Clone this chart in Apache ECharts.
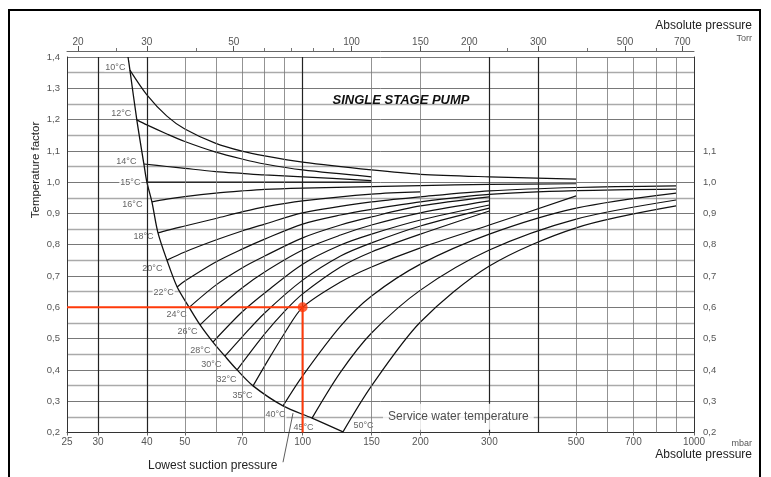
<!DOCTYPE html>
<html><head><meta charset="utf-8">
<script src="https://cdn.jsdelivr.net/npm/echarts/dist/echarts.min.js"></script>
<style>html,body{margin:0;padding:0;background:#fff}#c{width:771px;height:477px}</style>
</head><body><div id="c"></div>
<script>
// ---- data (pressure in mbar, temperature factor) ----
const bottomTicks = [25,30,40,50,70,100,150,200,300,500,700,1000];
const topMajor = [20,30,50,100,150,200,300,500,700];
const topMinor = [25,40,60,70,80,90,250,400,600];
const vGrid = [30,40,50,60,70,80,90,100,150,200,300,400,500,600,700,800,900];
const vGridBold = [30,40,100,300,400];

const tempLabels = ['10°C','12°C','14°C','15°C','16°C','18°C','20°C','22°C','24°C','26°C','28°C','30°C','32°C','35°C','40°C','45°C','50°C'];
const startP = [36.2,37.7,39.3,40.0,41.2,42.7,45.0,47.8,51.3,54.7,59.0,63.3,68.0,74.7,89.1,105.7,126.8];
const startF = [1.358,1.199,1.058,1.0,0.937,0.838,0.751,0.665,0.6,0.544,0.489,0.444,0.40,0.349,0.285,0.246,0.202];
const boundaryTopP = 35.8, boundaryTopF = 1.4;

const curveP = [
  [40,45,50,60,70,80,100,150,200,300,500],
  [40,45,50,60,70,80,100,150],
  [45,50,60,70,80,100,150],
  [150],
  [45,50,60,70,80,100,150,200,300,500],
  [45,50,60,70,80,100,150,200],
  [50,60,70,80,100,150,200,300,500,900],
  [50,60,70,80,100,125,150,200,300,500,900],
  [60,70,80,100,125,150,200,300],
  [60,70,80,100,125,150,200,300],
  [70,80,100,125,150,200,300],
  [70,80,100,125,150,200,300],
  [80,90,100,125,150,200,300],
  [80,90,100,125,150,200,300,500],
  [100,125,150,200,300,500,900],
  [125,150,200,300,500,900],
  [150,200,300,500,900]
];
const curveF = [
  [1.279,1.211,1.170,1.124,1.099,1.084,1.064,1.039,1.025,1.017,1.010],
  [1.183,1.154,1.130,1.096,1.074,1.058,1.039,1.017],
  [1.050,1.044,1.034,1.028,1.023,1.017,1.005],
  [1.0],
  [0.946,0.954,0.965,0.972,0.977,0.981,0.986,0.989,0.993,0.995],
  [0.846,0.860,0.884,0.905,0.921,0.940,0.962,0.969],
  [0.777,0.815,0.844,0.866,0.902,0.937,0.953,0.972,0.983,0.988],
  [0.684,0.745,0.786,0.818,0.866,0.895,0.913,0.937,0.961,0.973,0.978],
  [0.671,0.726,0.764,0.822,0.863,0.889,0.924,0.953],
  [0.591,0.662,0.713,0.783,0.831,0.863,0.902,0.940],
  [0.585,0.646,0.738,0.799,0.834,0.879,0.927],
  [0.505,0.582,0.687,0.764,0.806,0.860,0.917],
  [0.515,0.588,0.643,0.729,0.777,0.834,0.908],
  [0.413,0.518,0.600,0.681,0.729,0.790,0.863,0.956],
  [0.381,0.540,0.636,0.738,0.834,0.917,0.965],
  [0.393,0.518,0.655,0.783,0.882,0.943],
  [0.349,0.553,0.732,0.854,0.924]
];
// label offsets (style only)
const labelOffsets = [[-1,-3],[-2,-6],[-4,-3],[-3,0],[-6,3],[-1,4],[-1,8],[0,6],[1,7],[1,7],[1,8],[0,8],[3,10],[3,10],[6,9],[5,9],[7,-6]];

const exampleP = 100, exampleF = 0.6;
const leaderP = [89.1, 94.5], leaderF = [0.105, 0.262];
const serviceP = 250, serviceF = 0.25;
const TORR = 1.33322;

const FONT = 'Liberation Sans, Arial, Helvetica, sans-serif';
const comma = v => (Math.round(v*10)/10).toFixed(1).replace('.', ',');

const chart = echarts.init(document.getElementById('c'), null, {renderer:'canvas'});

const series = [];
// vertical grid lines
series.push({
  type:'line', xAxisIndex:0, yAxisIndex:0, data:[], z:1, silent:true,
  markLine:{
    symbol:'none', silent:true, animation:false, label:{show:false},
    data: vGrid.map(v => ({xAxis:v, lineStyle:{
      color: vGridBold.includes(v) ? '#222' : '#777',
      width: vGridBold.includes(v) ? 1.2 : 0.8, type:'solid'}}))
  }
});
// temperature curves
curveP.forEach((ps, i) => {
  const d = [[startP[i], startF[i]]].concat(ps.map((p, j) => [p, curveF[i][j]]));
  series.push({type:'line', name:tempLabels[i], data:d, smooth:0.3,
    symbol:'none', z:3, lineStyle:{color:'#111', width:1.2}, silent:true});
});
// boundary curve
series.push({type:'line', data:[[boundaryTopP, boundaryTopF]].concat(startP.map((p,i)=>[p,startF[i]])),
  smooth:0.3, symbol:'none', z:3, lineStyle:{color:'#111', width:1.3}, silent:true});
// temperature labels
series.push({type:'scatter', symbolSize:1, z:4, silent:true,
  itemStyle:{color:'rgba(0,0,0,0)'},
  label:{show:true, formatter:p=>tempLabels[p.dataIndex], fontFamily:FONT, fontSize:9, color:'#3a3a3a'},
  data: startP.map((p,i)=>({value:[p,startF[i]],
    label:{show:true, position: i===16 ? 'right':'left', distance:2, offset:labelOffsets[i],
      backgroundColor:'#fff', padding:[0,1]}}))
});
// example red line and dot
series.push({type:'line', data:[[25,exampleF],[exampleP,exampleF],[exampleP,0.2]], symbol:'none', z:6,
  lineStyle:{color:'#ff3a0a', width:2}, silent:true});
series.push({type:'scatter', data:[[exampleP,exampleF]], symbolSize:10, z:7, itemStyle:{color:'#ff3a0a'}, silent:true});
// leader line for "Lowest suction pressure"
series.push({type:'line', data:leaderP.map((p,i)=>[p,leaderF[i]]), symbol:'none', clip:false, z:4,
  lineStyle:{color:'#333', width:0.8}, silent:true});
// service water label
series.push({type:'scatter', data:[[serviceP, serviceF]], symbolSize:1, z:5, silent:true,
  itemStyle:{color:'rgba(0,0,0,0)'},
  label:{show:true, position:'inside', formatter:'Service water temperature', fontFamily:FONT, fontSize:12,
    color:'#222', backgroundColor:'#fff', padding:[4,5,10,5]}});

const option = {
  animation:false,
  backgroundColor:'#fff',
  grid:{left:67, right:77, top:57, bottom:44.5, containLabel:false},
  xAxis:[
    {type:'log', logBase:10, min:25, max:1000, position:'bottom',
     axisLine:{show:true, lineStyle:{color:'#333', width:1}},
     axisTick:{show:true, customValues:bottomTicks, length:3, lineStyle:{color:'#666'}},
     axisLabel:{customValues:bottomTicks, formatter:v=>String(Math.round(v)), color:'#555', fontSize:10, fontFamily:FONT, margin:5},
     splitLine:{show:false}, minorTick:{show:false}, minorSplitLine:{show:false}},
    {type:'log', logBase:10, min:25/TORR, max:1000/TORR, position:'top', offset:6,
     axisLine:{show:true, lineStyle:{color:'#666', width:1}},
     axisTick:{show:true, customValues:topMajor, length:5, lineStyle:{color:'#555'}},
     axisLabel:{customValues:topMajor, formatter:v=>String(Math.round(v)), color:'#555', fontSize:10, fontFamily:FONT, margin:4},
     splitLine:{show:false}},
    {type:'log', logBase:10, min:25/TORR, max:1000/TORR, position:'top', offset:6,
     axisLine:{show:false},
     axisTick:{show:true, customValues:topMinor, length:3, lineStyle:{color:'#777'}},
     axisLabel:{show:false}, splitLine:{show:false}}
  ],
  yAxis:[
    {type:'value', min:0.2, max:1.4, interval:0.1, position:'left',
     axisLine:{show:true, lineStyle:{color:'#333'}}, axisTick:{show:false},
     axisLabel:{formatter:comma, color:'#555', fontSize:9.5, fontFamily:FONT, margin:7},
     splitLine:{show:true, lineStyle:{color:'#555', width:0.8}},
     minorTick:{show:false, splitNumber:2},
     minorSplitLine:{show:true, lineStyle:{color:'#aaa', width:1.3}}},
    {type:'value', min:0.2, max:1.4, interval:0.1, position:'right',
     axisLine:{show:true, lineStyle:{color:'#333'}}, axisTick:{show:false},
     axisLabel:{formatter:v=> v>1.15 ? '' : comma(v), color:'#555', fontSize:9.5, fontFamily:FONT, margin:9},
     splitLine:{show:false}}
  ],
  graphic:[
    {type:'rect', shape:{x:9, y:10, width:751, height:480}, style:{fill:'none', stroke:'#000', lineWidth:2}, z:100},
    {type:'text', x:401, y:100, style:{text:'SINGLE STAGE PUMP', font:'italic bold 13px '+FONT, fill:'#111', textAlign:'center', textVerticalAlign:'middle'}, z:10},
    {type:'text', x:752, y:26, style:{text:'Absolute pressure', font:'12px '+FONT, fill:'#222', textAlign:'right', textVerticalAlign:'middle'}},
    {type:'text', x:752, y:39, style:{text:'Torr', font:'9px '+FONT, fill:'#555', textAlign:'right', textVerticalAlign:'middle'}},
    {type:'text', x:752, y:444, style:{text:'mbar', font:'9px '+FONT, fill:'#555', textAlign:'right', textVerticalAlign:'middle'}},
    {type:'text', x:752, y:455, style:{text:'Absolute pressure', font:'12px '+FONT, fill:'#222', textAlign:'right', textVerticalAlign:'middle'}},
    {type:'text', x:148, y:466, style:{text:'Lowest suction pressure', font:'12px '+FONT, fill:'#222', textAlign:'left', textVerticalAlign:'middle'}},
    {type:'text', x:36, y:170, rotation:Math.PI/2, style:{text:'Temperature factor', font:'11.5px '+FONT, fill:'#222', textAlign:'center', textVerticalAlign:'middle'}}
  ],
  series: series
};
chart.setOption(option);
</script></body></html>
